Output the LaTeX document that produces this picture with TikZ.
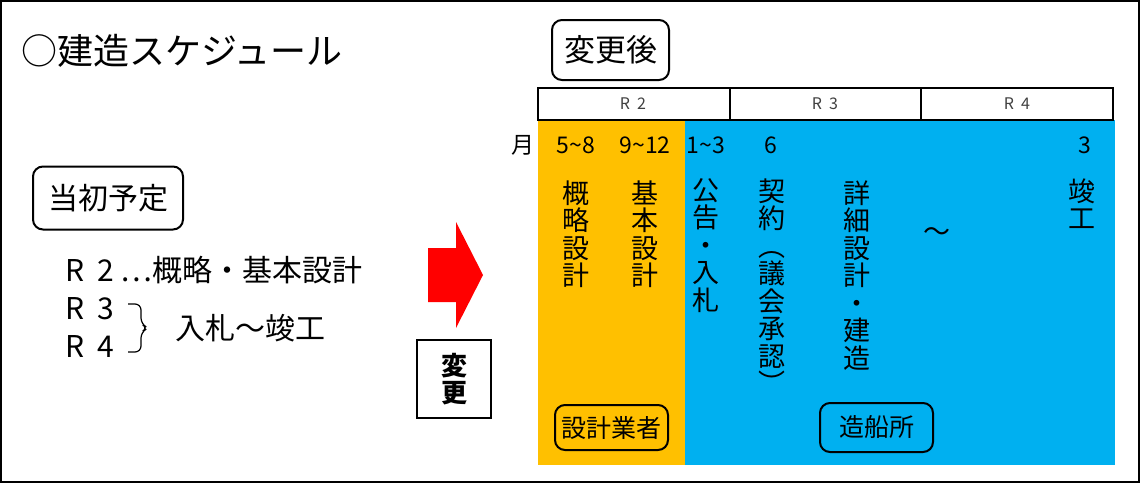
\documentclass[tikz,border=0pt]{standalone}
\usepackage{fontspec}
\setmainfont{Noto Sans CJK JP}

\definecolor{planorange}{HTML}{FFC000}
\definecolor{planblue}{HTML}{00B0F0}

\tikzset{
  tagbox/.style={draw, line width=1pt, rounded corners=5pt, inner sep=0pt},
  vtext/.style={anchor=north, align=center, inner sep=0pt,
                font=\fontsize{13.5}{13.75}\selectfont},
  month/.style={font=\fontsize{11.5}{13}\selectfont},
  yearlbl/.style={font=\fontsize{8}{10}\selectfont, text=black!75},
}
\newcommand{\rgap}{\hspace{0.45em}}

\begin{document}
\begin{tikzpicture}[x=0.5pt, y=-0.5pt]

\useasboundingbox (0,0) rectangle (1140,483);
\draw [line width=1pt] (1,1) rectangle (1139,482);

\node (title) [anchor=west, font=\fontsize{18}{20}\selectfont] at (14,51) {○建造スケジュール};

% left side: first plan
\node (plan) [tagbox, minimum width=75pt, minimum height=31.5pt, font=\fontsize{15}{17}\selectfont] at (108,198) {当初予定};
\node (rtwo) [anchor=west, font=\fontsize{15}{17}\selectfont] at (58,270) {R\rgap 2 …概略・基本設計};
\node (rthree) [anchor=west, font=\fontsize{15}{17}\selectfont] at (58,309) {R\rgap 3};
\node (rfour) [anchor=west, font=\fontsize{15}{17}\selectfont] at (58,346) {R\rgap 4};
\draw [line width=0.6pt, rounded corners=3pt]
  (128,304) -- (141,304) -- (141,324) -- (148,328) -- (141,332) -- (141,352) -- (128,352);
\node (bid) [anchor=west, font=\fontsize{15}{17}\selectfont] at (168,328) {入札～竣工};

% red arrow
\fill [red] (428,248) -- (456,248) -- (456,222) -- (483,275) -- (456,328) -- (456,302) -- (428,302) -- cycle;
\node (change) [draw, line width=1pt, minimum width=37pt, minimum height=39pt, align=center, inner sep=0pt,
  font=\fontsize{13}{13.5}\selectfont\bfseries] at (454,379) {変\\更};

% right side: after change
\node (after) [tagbox, minimum width=58.5pt, minimum height=30pt, font=\fontsize{15.5}{17}\selectfont] at (610.5,50) {変更後};

\fill [planorange] (538,120) rectangle (685,465);
\fill [planblue] (685,120) rectangle (1115,465);

\draw [line width=1pt] (538,88) rectangle (1113,120);
\draw [line width=1pt] (730,88) -- (730,120);
\draw [line width=1pt] (921,88) -- (921,120);
\node (ytwo) [yearlbl] at (633,104) {R\rgap 2};
\node (ythree) [yearlbl] at (825,104) {R\rgap 3};
\node (yfour) [yearlbl] at (1017,104) {R\rgap 4};

% months
\node (tsuki) [font=\fontsize{11.5}{13}\selectfont] at (523,145) {月};
\node (m1) [month] at (576,145) {5\textasciitilde 8};
\node (m2) [month] at (645,145) {9\textasciitilde 12};
\node (m3) [month] at (706,145) {1\textasciitilde 3};
\node (m4) [month] at (771,145) {6};
\node (m5) [month] at (1085,145) {3};

% vertical labels
\node (gaiyaku) [vtext] at (576,180) {概\\略\\設\\計};
\node (kihon) [vtext] at (645,180) {基\\本\\設\\計};
\node (koukoku) [vtext] at (706,178) {公\\告\\・\\入\\札};
\node (keiyaku) [vtext] at (772,178) {契\\約\\︵\\議\\会\\承\\認\\︶};
\node (shousai) [vtext] at (857,180) {詳\\細\\設\\計\\・\\建\\造};
\node (wave) [font=\fontsize{13.5}{14}\selectfont] at (937,235) {～};
\node (shunkou) [vtext] at (1082,178) {竣\\工};

% makers
\node (designer) [tagbox, minimum width=56.5pt, minimum height=22.5pt, font=\fontsize{12.5}{14}\selectfont] at (611.5,427.5) {設計業者};
\node (yard) [tagbox, minimum width=56.5pt, minimum height=24.5pt, font=\fontsize{12.5}{14}\selectfont] at (876.5,427.5) {造船所};

\end{tikzpicture}
\end{document}
